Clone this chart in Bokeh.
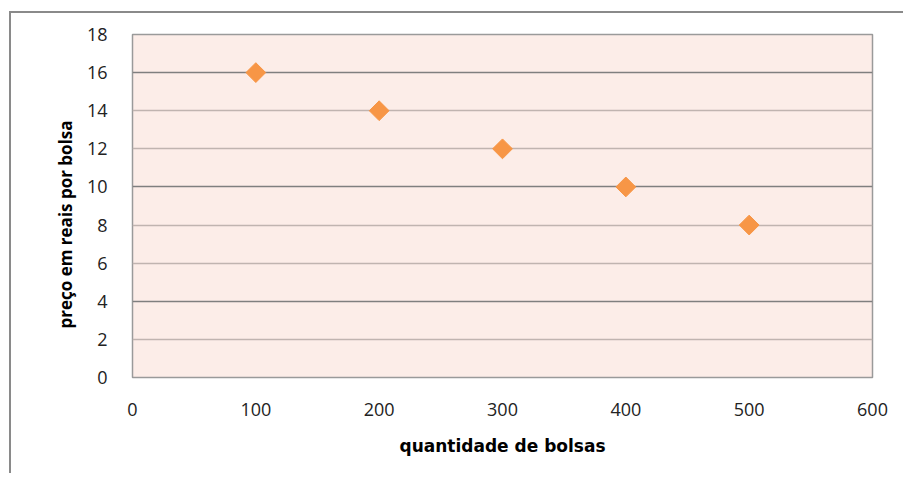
import math
from bokeh.plotting import figure
from bokeh.models import Range1d, FixedTicker, Grid, ColumnDataSource, Title
from bokeh.embed import file_html
from bokeh.resources import INLINE

quantidade = [100, 200, 300, 400, 500]
preco = [16, 14, 12, 10, 8]
x_ticks = [0, 100, 200, 300, 400, 500, 600]
y_ticks = [0, 2, 4, 6, 8, 10, 12, 14, 16, 18]
y_dark = [4, 10, 16]
y_light = [0, 2, 6, 8, 12, 14, 18]

src = ColumnDataSource(dict(x=quantidade, y=preco))

W, H = 894, 462
p = figure(width=W, height=H, output_backend="svg", toolbar_location=None,
           x_range=Range1d(0, 600), y_range=Range1d(0, 18),
           min_border_left=121, min_border_right=33, min_border_top=21, min_border_bottom=98)
p.styles = {"margin-left": "9px", "margin-top": "11px",
            "border-left": "2px solid #8a8a8a", "border-top": "2px solid #8a8a8a"}

p.background_fill_color = "#FCEDE8"
p.border_fill_color = "white"
p.outline_line_color = "#9a9a9a"
p.outline_line_width = 1.5

p.xgrid.visible = False
p.ygrid.visible = False
p.add_layout(Grid(dimension=1, ticker=FixedTicker(ticks=y_light), grid_line_color="#c0b4b0", grid_line_width=1.5))
p.add_layout(Grid(dimension=1, ticker=FixedTicker(ticks=y_dark), grid_line_color="#7f7f7f", grid_line_width=1.5))

p.xaxis.ticker = FixedTicker(ticks=x_ticks)
p.yaxis.ticker = FixedTicker(ticks=y_ticks)
for ax in (p.xaxis[0], p.yaxis[0]):
    ax.axis_line_color = None
    ax.major_tick_line_color = None
    ax.minor_tick_line_color = None
    ax.major_label_text_font = "Open Sans"
    ax.major_label_text_font_size = "18px"
    ax.major_label_text_color = "#222222"
p.xaxis.major_label_standoff = 19
p.yaxis.major_label_standoff = 19
p.xaxis.axis_label = "quantidade de bolsas"
p.xaxis.axis_label_text_font = "DejaVu Sans"
p.xaxis.axis_label_text_font_size = "17px"
p.xaxis.axis_label_text_font_style = "bold"
p.xaxis.axis_label_text_color = "#000000"
p.xaxis.axis_label_standoff = 17

ytitle = Title(text="preço em reais por bolsa", align="left", offset=49, standoff=14,
               text_font="Open Sans", text_font_size="17px", text_font_style="bold",
               text_color="#000000")
p.add_layout(ytitle, "left")

p.scatter("x", "y", source=src, marker="square", angle=math.pi / 4, size=14,
          fill_color="#F79646", line_color="#F79646")

open("out.html", "w").write(file_html(p, INLINE))
